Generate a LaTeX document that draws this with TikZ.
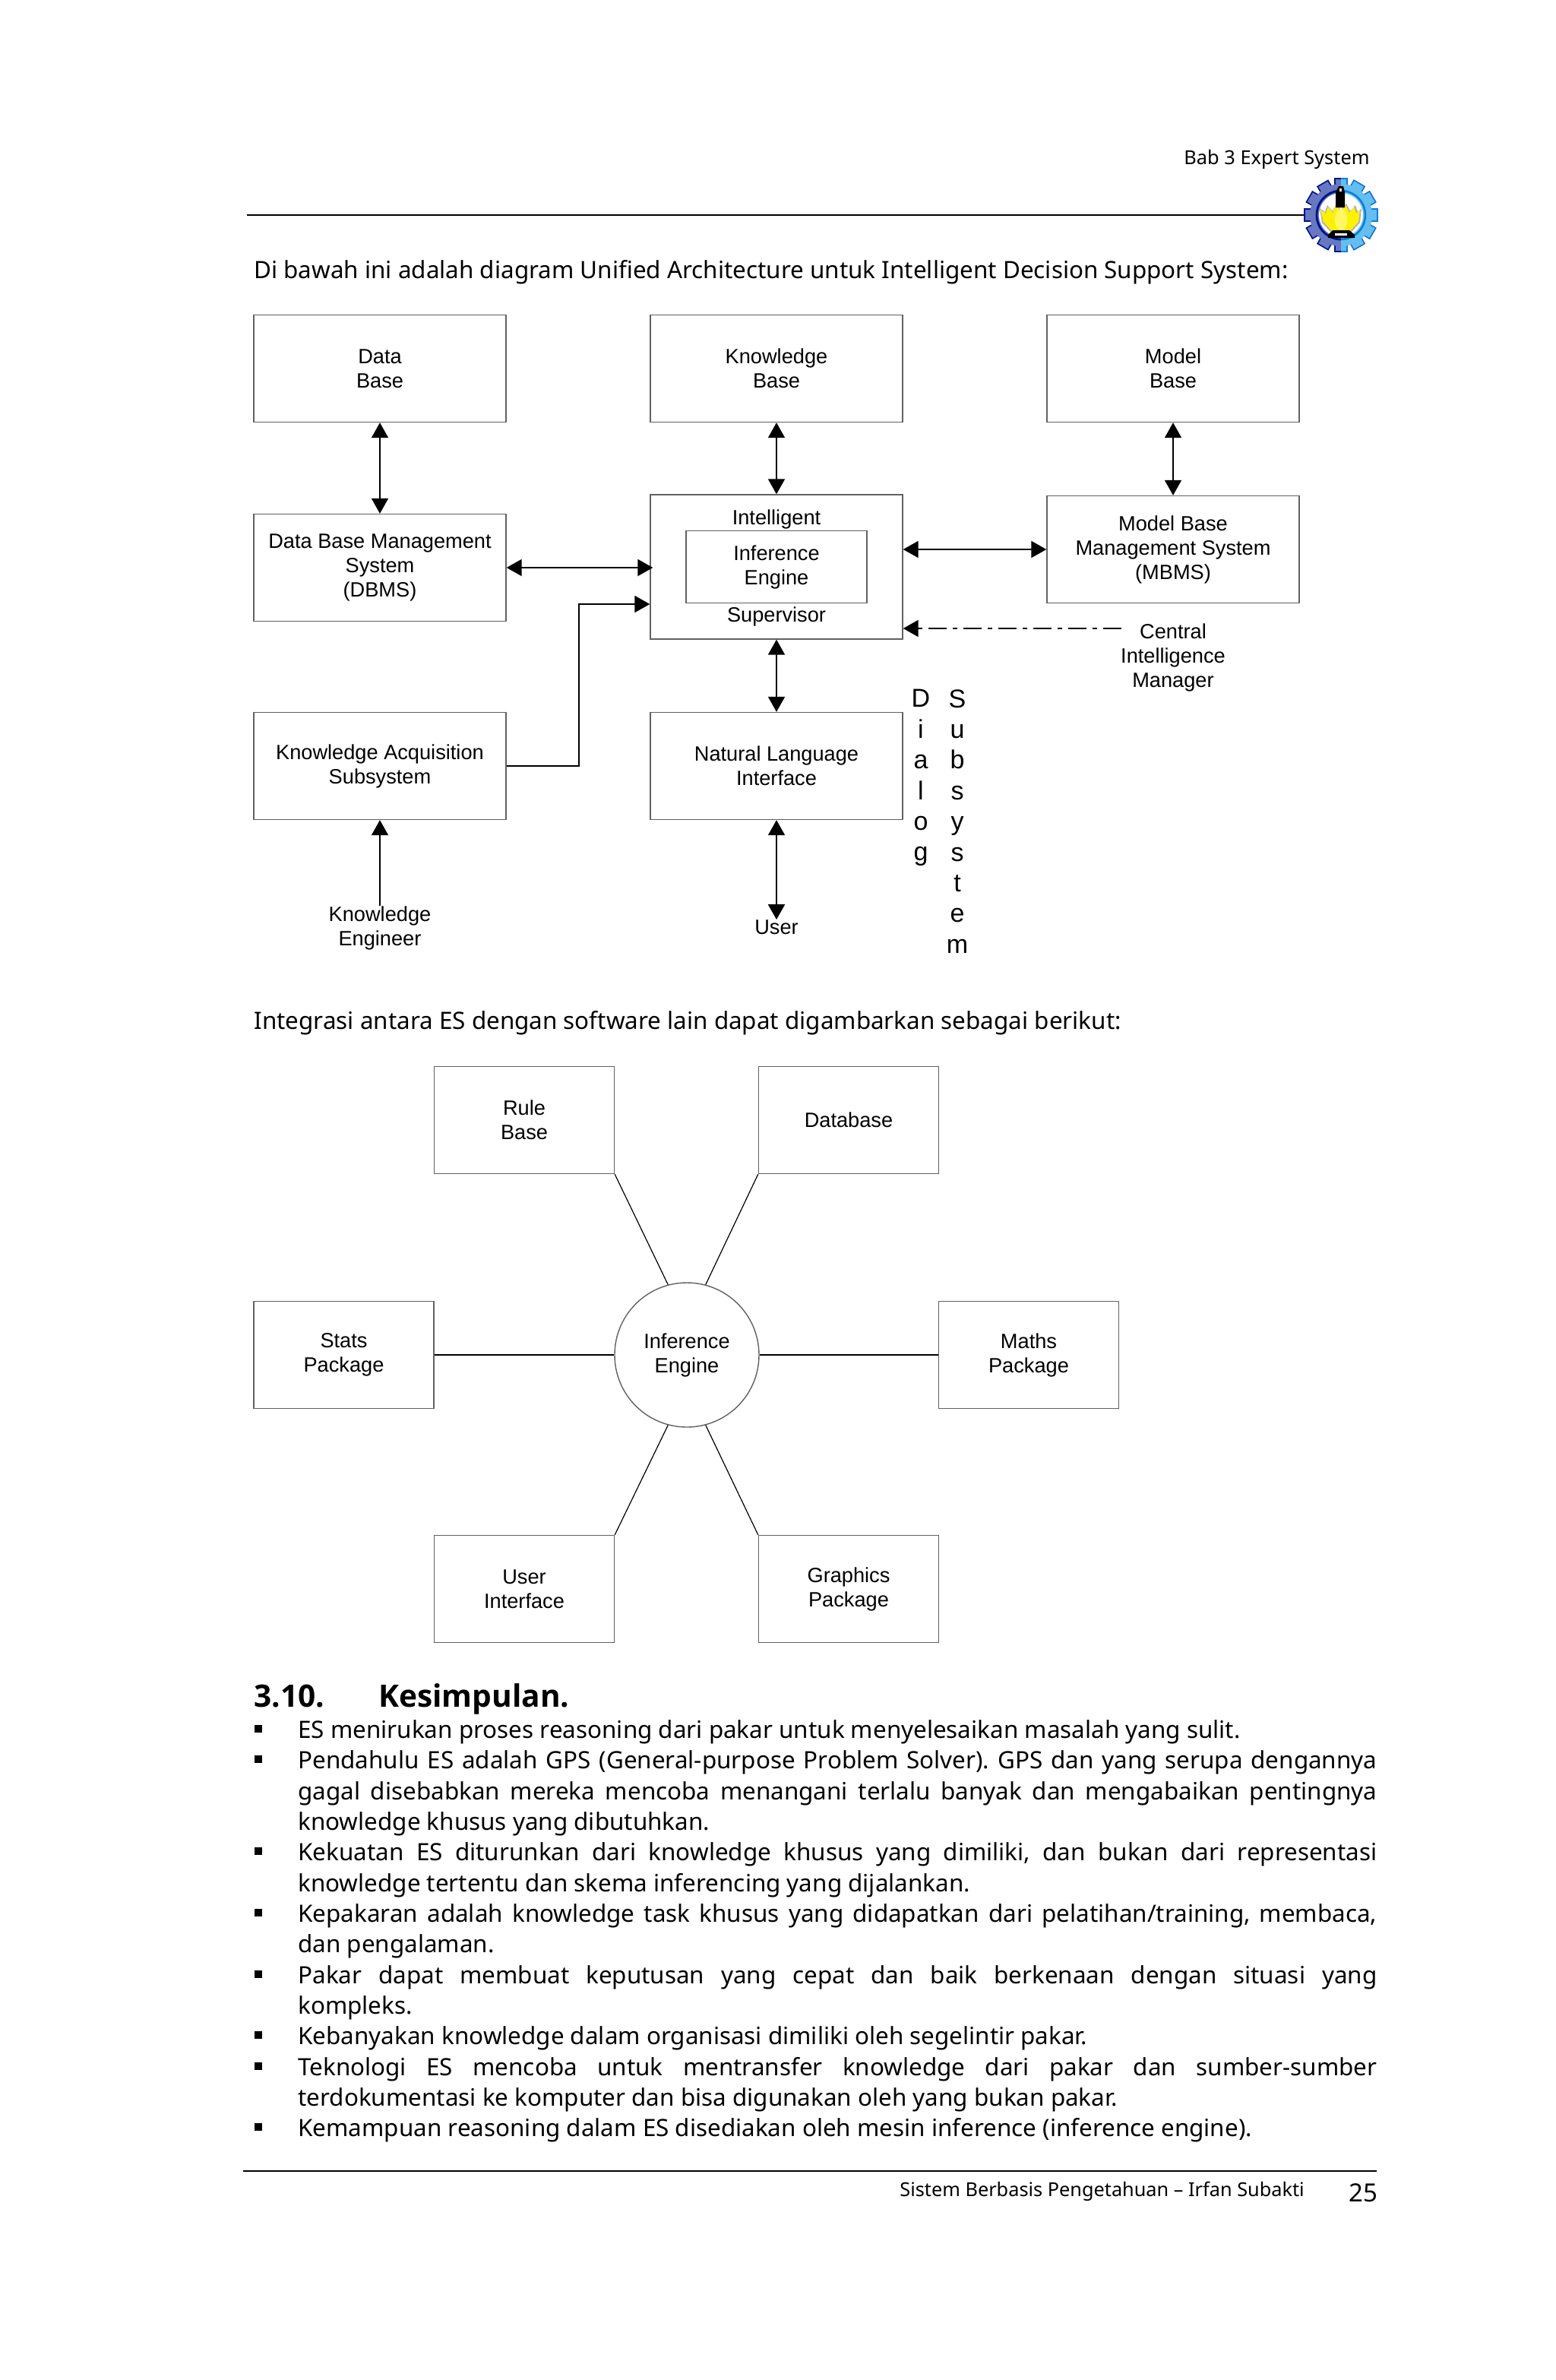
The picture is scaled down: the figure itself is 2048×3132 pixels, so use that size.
\documentclass[tikz,border=0pt]{standalone}
\usepackage{fontspec}
\setmainfont{Noto Sans}
\newfontfamily\diagfont{Liberation Sans}
\newfontfamily\headfont{Open Sans}
\definecolor{gearleft}{rgb}{0.40, 0.47, 0.75}
\definecolor{gearright}{rgb}{0.40, 0.74, 0.94}
\definecolor{geardark}{rgb}{0, 0.07, 0.55}
\definecolor{gearmid}{rgb}{0, 0.50, 0.85}
\definecolor{boxline}{rgb}{0.38, 0.38, 0.38}
\newcommand{\jl}[1]{\makebox[710pt][s]{#1}}
\usetikzlibrary{arrows.meta}
\tikzset{
  boxed/.style={draw=boxline, line width=0.7pt, inner sep=0, align=center, font=\diagfont\fontsize{13.6}{16}\selectfont},
  label/.style={inner sep=0, align=center, font=\diagfont\fontsize{13.6}{16}\selectfont},
  letters/.style={inner sep=0, align=center, font=\diagfont\fontsize{17}{20.2}\selectfont, anchor=north},
  spoke/.style={draw=black, line width=0.6pt},
  link/.style={line width=1pt, >={Triangle[length=10pt,width=11pt]}},
  body/.style={inner sep=0, anchor=base west, font=\frenchspacing\fontsize{15.7}{20.2}\selectfont},
  dot/.style={fill=black, inner sep=0, minimum size=5pt},
}
\begin{document}
\begin{tikzpicture}[x=0.5pt, y=-0.5pt]
\useasboundingbox (0, 0) rectangle (2048, 3132);
\fill[white] (0, 0) rectangle (2048, 3132);
\node[body, font=\fontsize{12.7}{15}\selectfont] (header) at (1558, 216) {Bab 3 Expert System};
\coordinate (ruletopa) at (325, 283);
\coordinate (ruletopb) at (1720, 283);
\draw[line width=1pt] (ruletopa) -- (ruletopb);
\begin{scope}[shift={(1765, 283)}]
\foreach \a in {0, 30, ..., 330} {
  \fill[gearleft, draw=geardark, line width=0.8pt, rotate=\a] (-8, -48) rectangle (8, -36);
}
\begin{scope}
\clip (0, -60) rectangle (60, 60);
\foreach \a in {0, 30, ..., 330} {
  \fill[gearright, draw=gearmid, line width=0.6pt, rotate=\a] (-8, -48) rectangle (8, -36);
}
\end{scope}
\fill[gearleft] (0, -41) arc (-90:-270:41) -- cycle;
\fill[gearright] (0, -41) arc (-90:90:41) -- cycle;
\draw[geardark, line width=1.4pt] (0, -32) arc (-90:-270:32);
\draw[gearmid, line width=1.2pt] (0, -32) arc (-90:90:32);
\fill[white] (0, 0) circle (29);
\fill[gray!60] (-28, -9) -- (-21, -4) -- (-18, -13) -- (-11, -5) -- (-6, -15) -- (0, -7) -- (7, -15) -- (12, -5) -- (19, -13) -- (22, -4) -- (27, -9) -- (25, 10) -- (12, 24) -- (0, 27) -- (-12, 24) -- (-25, 10) -- cycle;
\fill[yellow] (-27, -7) -- (-20, -2) -- (-17, -11) -- (-11, -3) -- (-6, -13) -- (0, -5) -- (6, -13) -- (11, -3) -- (17, -11) -- (20, -2) -- (25, -7) -- (23, 9) -- (11, 22) -- (0, 25) -- (-11, 22) -- (-23, 9) -- cycle;
\fill[yellow!60!white] (0, 6) ellipse (8 and 14);
\fill[black] (-7, -10) rectangle (5, -30) -- (3, -38) -- (-3, -38) -- (-7, -30) -- cycle;
\fill[white] (-2, -35) rectangle (1, -31);
\fill[black] (-17, 26) -- (-11, 20) -- (11, 20) -- (18, 26) -- (18, 30) -- (-17, 30) -- cycle;
\fill[white] (-8, 24) rectangle (8, 27);
\end{scope}
\node[body] (intro) at (334, 366) {Di bawah ini adalah diagram Unified Architecture untuk Intelligent Decision Support System:};
\node[boxed, minimum width=166pt, minimum height=70.5pt] (database) at (500, 485) {Data\\Base};
\node[boxed, minimum width=166pt, minimum height=70.5pt] (knowledge) at (1022, 485) {Knowledge\\Base};
\node[boxed, minimum width=166pt, minimum height=70.5pt] (modelbase) at (1544, 485) {Model\\Base};
\node[boxed, minimum width=166pt, minimum height=70.5pt] (dbms) at (500, 747) {Data Base Management\\System\\(DBMS)};
\node[boxed, minimum width=166pt, minimum height=95pt] (supervisor) at (1022, 746) {};
\node[label] (intelligent) at (1022, 683) {Intelligent};
\node[boxed, minimum width=119pt, minimum height=47.5pt] (inference) at (1022, 746) {Inference\\Engine};
\node[label] (supervisortext) at (1022, 811) {Supervisor};
\node[boxed, minimum width=166pt, minimum height=70.5pt] (mbms) at (1544, 723) {Model Base\\Management System\\(MBMS)};
\node[boxed, minimum width=166pt, minimum height=70.5pt] (acquisition) at (500, 1008) {Knowledge Acquisition\\Subsystem};
\node[boxed, minimum width=166pt, minimum height=70.5pt] (natural) at (1022, 1008) {Natural Language\\Interface};
\node[label] (engineer) at (500, 1221) {Knowledge\\Engineer};
\node[label] (user) at (1022, 1220) {User};
\node[label] (central) at (1544, 865) {Central\\Intelligence\\Manager};
\node[letters] (dialog) at (1212, 907) {D\\i\\a\\l\\o\\g};
\node[letters] (subsystem) at (1260, 907) {S\\u\\b\\s\\y\\s\\t\\e\\m};
\coordinate (bend) at (762, 795);
\coordinate (dashend) at (1476, 827);
\draw[link, <->] (database) -- (dbms);
\draw[link, <->] (knowledge) -- (supervisor);
\draw[link, <->] (modelbase) -- (mbms);
\draw[link, <->, shorten >=-2pt] (dbms) -- (supervisor.west |- dbms);
\draw[link, <->] (supervisor.east |- mbms) -- (mbms);
\draw[link, <->] (supervisor) -- (natural);
\draw[link, ->] (acquisition) -| (bend) -- (supervisor.west |- bend);
\draw[link, ->] (engineer) -- (acquisition);
\draw[link, <->] (natural) -- (user);
\draw[link, ->, dash pattern=on 12pt off 4pt on 3pt off 4pt] (dashend) -- (supervisor.east |- dashend);
\node[body] (integrasi) at (334, 1354) {Integrasi antara ES dengan software lain dapat digambarkan sebagai berikut:};
\node[boxed, minimum width=118.5pt, minimum height=70.5pt] (rulebase) at (690, 1474) {Rule\\Base};
\node[boxed, minimum width=118.5pt, minimum height=70.5pt] (databasetwo) at (1117, 1474) {Database};
\node[boxed, minimum width=118.5pt, minimum height=70.5pt] (stats) at (452.5, 1783) {Stats\\Package};
\node[boxed, minimum width=118.5pt, minimum height=70.5pt] (maths) at (1354, 1783) {Maths\\Package};
\node[boxed, minimum width=118.5pt, minimum height=70.5pt] (userif) at (690, 2091) {User\\Interface};
\node[boxed, minimum width=118.5pt, minimum height=70.5pt] (graphics) at (1117, 2091) {Graphics\\Package};
\node[boxed, circle, minimum size=95pt] (engine) at (904, 1783) {Inference\\Engine};
\draw[spoke] (rulebase.south east) -- (engine.105);
\draw[spoke] (databasetwo.south west) -- (engine.75);
\draw[spoke] (stats) -- (engine);
\draw[spoke] (maths) -- (engine);
\draw[spoke] (userif.north east) -- (engine.255);
\draw[spoke] (graphics.north west) -- (engine.285);
\node[body, font=\headfont\fontsize{20.3}{24}\selectfont\bfseries] (headnum) at (334, 2246) {3.10.};
\node[body, font=\headfont\fontsize{20.3}{24}\selectfont\bfseries] (headtext) at (498, 2246) {Kesimpulan.};
\node[dot] (dota) at (340, 2275) {};
\node[body] (linea) at (392, 2287) {ES menirukan proses reasoning dari pakar untuk menyelesaikan masalah yang sulit.};
\node[dot] (dotb) at (340, 2315) {};
\node[body] (lineb) at (392, 2327) {\jl{Pendahulu ES adalah GPS (General-purpose Problem Solver). GPS dan yang serupa dengannya}};
\node[body] (linec) at (392, 2368) {\jl{gagal disebabkan mereka mencoba menangani terlalu banyak dan mengabaikan pentingnya}};
\node[body] (lined) at (392, 2408) {knowledge khusus yang dibutuhkan.};
\node[dot] (dote) at (340, 2436) {};
\node[body] (linee) at (392, 2448) {\jl{Kekuatan ES diturunkan dari knowledge khusus yang dimiliki, dan bukan dari representasi}};
\node[body] (linef) at (392, 2489) {knowledge tertentu dan skema inferencing yang dijalankan.};
\node[dot] (dotg) at (340, 2517) {};
\node[body] (lineg) at (392, 2529) {\jl{Kepakaran adalah knowledge task khusus yang didapatkan dari pelatihan/training, membaca,}};
\node[body] (lineh) at (392, 2569) {dan pengalaman.};
\node[dot] (doti) at (340, 2598) {};
\node[body] (linei) at (392, 2610) {\jl{Pakar dapat membuat keputusan yang cepat dan baik berkenaan dengan situasi yang}};
\node[body] (linej) at (392, 2650) {kompleks.};
\node[dot] (dotk) at (340, 2678) {};
\node[body] (linek) at (392, 2690) {Kebanyakan knowledge dalam organisasi dimiliki oleh segelintir pakar.};
\node[dot] (dotl) at (340, 2719) {};
\node[body] (linel) at (392, 2731) {\jl{Teknologi ES mencoba untuk mentransfer knowledge dari pakar dan sumber-sumber}};
\node[body] (linem) at (392, 2771) {terdokumentasi ke komputer dan bisa digunakan oleh yang bukan pakar.};
\node[dot] (dotn) at (340, 2799) {};
\node[body] (linen) at (392, 2811) {Kemampuan reasoning dalam ES disediakan oleh mesin inference (inference engine).};
\coordinate (rulebota) at (320, 2857);
\coordinate (rulebotb) at (1812, 2857);
\draw[line width=1pt] (rulebota) -- (rulebotb);
\node[body, font=\fontsize{12.65}{15}\selectfont] (footer) at (1184, 2890) {Sistem Berbasis Pengetahuan – Irfan Subakti};
\node[body, font=\fontsize{16.5}{20}\selectfont] (pagenum) at (1775, 2897) {25};
\end{tikzpicture}
\end{document}
